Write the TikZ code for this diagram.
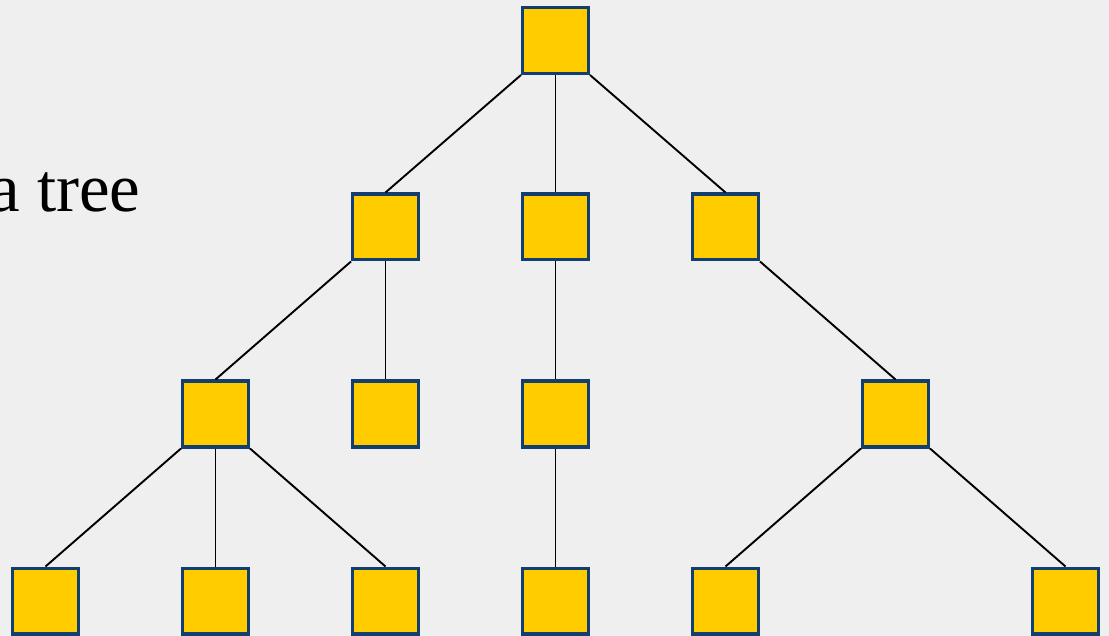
\documentclass[tikz,border=0pt]{standalone}
\usepackage{fontspec}
\setmainfont{Liberation Serif}
\definecolor{bg}{HTML}{EFEFEF}
\definecolor{boxfill}{HTML}{FFCC00}
\definecolor{boxedge}{HTML}{123F70}
\tikzset{
  tbox/.style={draw=boxedge, fill=boxfill, line width=3.4pt, minimum size=65.6pt, inner sep=0pt, shape=rectangle},
  tedge/.style={draw=black, line width=1.9pt}
}
\begin{document}
\begin{tikzpicture}[x=1pt,y=-1pt]
\fill[bg] (0,0) rectangle (1109,636);
\useasboundingbox (0,0) rectangle (1109,636);
\begin{scope}
\clip (0,0) rectangle (1109,636);
\node[anchor=base west, font=\fontsize{69}{75}\selectfont, inner sep=0pt] (title) at (-11,212) {a tree};
% level 0
\node[tbox] (r) at (555.5,40.5) {};
% level 1
\node[tbox] (a) at (385.5,227) {};
\node[tbox] (b) at (555.5,227) {};
\node[tbox] (c) at (725.5,227) {};
% level 2
\node[tbox] (aa) at (215.5,414) {};
\node[tbox] (ab) at (385.5,414) {};
\node[tbox] (ba) at (555.5,414) {};
\node[tbox] (ca) at (895.5,414) {};
% level 3
\node[tbox] (aaa) at (45.5,601) {};
\node[tbox] (aab) at (215.5,601) {};
\node[tbox] (aac) at (385.5,601) {};
\node[tbox] (baa) at (555.5,601) {};
\node[tbox] (caa) at (725.5,601) {};
\node[tbox] (cab) at (1065.5,601) {};
\draw[tedge] (r.south west) -- (a.north);
\draw[tedge] (r.south) -- (b.north);
\draw[tedge] (r.south east) -- (c.north);
\draw[tedge] (a.south west) -- (aa.north);
\draw[tedge] (a.south) -- (ab.north);
\draw[tedge] (b.south) -- (ba.north);
\draw[tedge] (c.south east) -- (ca.north);
\draw[tedge] (aa.south west) -- (aaa.north);
\draw[tedge] (aa.south) -- (aab.north);
\draw[tedge] (aa.south east) -- (aac.north);
\draw[tedge] (ba.south) -- (baa.north);
\draw[tedge] (ca.south west) -- (caa.north);
\draw[tedge] (ca.south east) -- (cab.north);
\end{scope}
\end{tikzpicture}
\end{document}
